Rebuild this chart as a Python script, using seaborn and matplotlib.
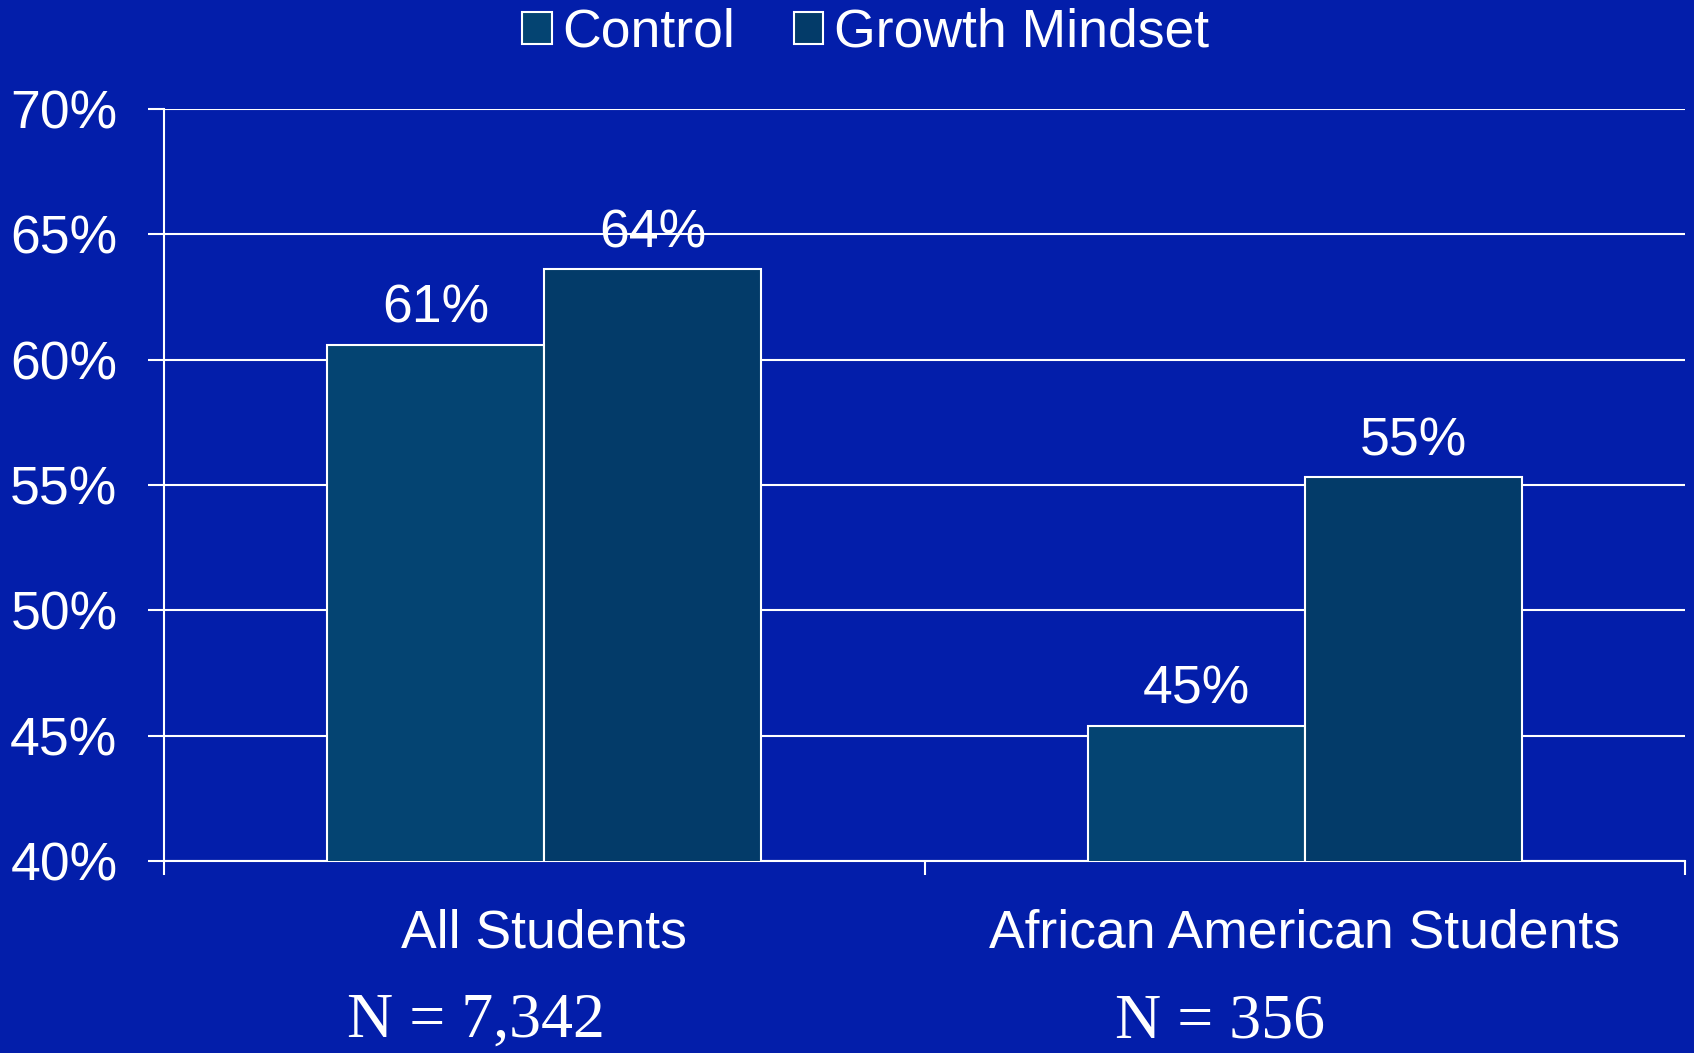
import matplotlib
matplotlib.use("Agg")
import matplotlib.pyplot as plt
import seaborn as sns
import pandas as pd

categories = ["All Students", "African American Students"]
groups = ["Control", "Growth Mindset"]
control_values = [60.6, 45.4]
growth_values = [63.6, 55.3]
n_labels = ["N = 7,342", "N = 356"]
y_ticks = [40, 45, 50, 55, 60, 65, 70]

BG = "#031EAA"
COLORS = {"Control": "#044472", "Growth Mindset": "#033B69"}

df = pd.DataFrame({
    "category": categories * 2,
    "group": [groups[0]] * len(categories) + [groups[1]] * len(categories),
    "value": control_values + growth_values,
})

sns.set_theme(style="white")
plt.rcParams["font.family"] = ["Liberation Sans", "DejaVu Sans"]

fig = plt.figure(figsize=(16.94, 10.53), dpi=100, facecolor=BG)
ax = fig.add_axes([0.0968, 0.1823, 0.8979, 0.7142])
ax.set_facecolor(BG)

sns.barplot(data=df, x="category", y="value", hue="group", order=categories,
            hue_order=groups, palette=COLORS, width=0.571, gap=0,
            edgecolor="white", linewidth=1.5, saturation=1, ax=ax, zorder=3)

ax.set_ylim(40, 70)
ax.set_xlim(-0.5, 1.5)
ax.set_yticks(y_ticks)
ax.set_yticklabels([f"{v}%" for v in y_ticks])
ax.yaxis.grid(True, color="white", linewidth=1.5, zorder=0)
ax.set_axisbelow(True)
ax.set_xlabel("")
ax.set_ylabel("")

for s in ["top", "right"]:
    ax.spines[s].set_visible(False)
for s in ["left", "bottom"]:
    ax.spines[s].set_color("white")
    ax.spines[s].set_linewidth(1.5)

ax.tick_params(axis="y", colors="white", labelsize=38.5, length=11.5, width=1.5,
               direction="out", pad=22, left=True)
ax.tick_params(axis="x", which="major", colors="white", labelsize=38.5, length=0, pad=34)
ax.set_xticks([-0.5, 0.5, 1.5], minor=True)
ax.tick_params(axis="x", which="minor", colors="white", length=10, width=1.5,
               direction="out", bottom=True)

for cont in ax.containers:
    ax.bar_label(cont, labels=[f"{round(b.get_height())}%" for b in cont],
                 color="white", fontsize=38.5, padding=8)

leg = ax.get_legend()
if leg is not None:
    leg.remove()
handles = [plt.Rectangle((0, 0), 1, 1, facecolor=COLORS[g], edgecolor="white", linewidth=1.5)
           for g in groups]
fig.legend(handles, groups, loc="center", bbox_to_anchor=(0.511, 0.969), ncol=2,
           frameon=False, fontsize=38.5, labelcolor="white", handlelength=0.55,
           handleheight=0.55, handletextpad=0.2, columnspacing=1.1)

fig.text(476 / 1694, 1 - 1022 / 1053, n_labels[0], color="white", fontsize=46,
         family=["Liberation Serif", "DejaVu Serif"], ha="center", va="center")
fig.text(1220 / 1694, 1 - 1022 / 1053, n_labels[1], color="white", fontsize=46,
         family=["Liberation Serif", "DejaVu Serif"], ha="center", va="center")

fig.savefig("out.png", dpi=100, facecolor=BG)
